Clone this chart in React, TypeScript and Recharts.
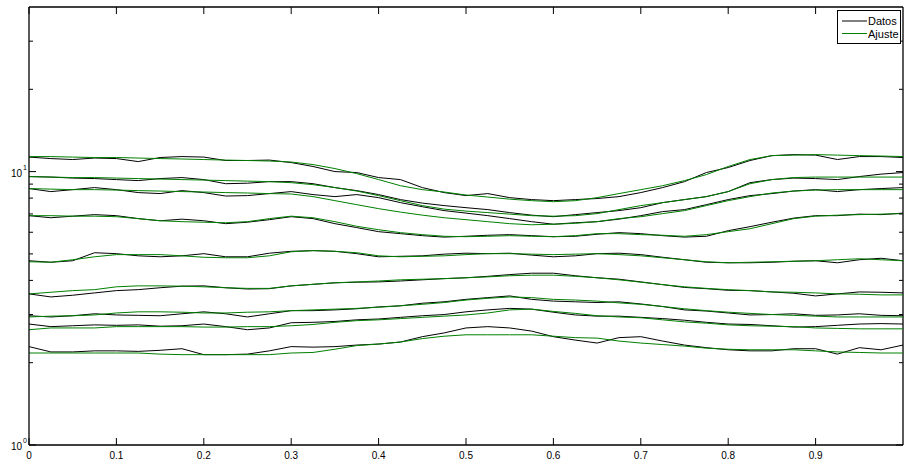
import React from 'react';
import { LineChart, Line, XAxis, YAxis, Legend, ReferenceLine } from 'recharts';

const xs = [0, 0.025, 0.05, 0.075, 0.1, 0.125, 0.15, 0.175, 0.2, 0.225, 0.25, 0.275, 0.3, 0.325, 0.35, 0.375, 0.4, 0.425, 0.45, 0.475, 0.5, 0.525, 0.55, 0.575, 0.6, 0.625, 0.65, 0.675, 0.7, 0.725, 0.75, 0.775, 0.8, 0.825, 0.85, 0.875, 0.9, 0.925, 0.95, 0.975, 1];

const datos1 = [11.30, 11.16, 11.07, 11.21, 11.16, 10.88, 11.26, 11.35, 11.30, 10.98, 10.98, 11.02, 10.79, 10.44, 10.0, 9.92, 9.51, 9.35, 8.74, 8.38, 8.17, 8.31, 8.03, 7.90, 7.83, 7.90, 7.97, 8.10, 8.38, 8.74, 9.19, 9.92, 10.35, 10.98, 11.44, 11.54, 11.49, 11.07, 11.35, 11.35, 11.26];
const datos2 = [9.59, 9.55, 9.47, 9.43, 9.35, 9.27, 9.43, 9.51, 9.35, 9.03, 9.07, 9.19, 9.19, 9.03, 8.74, 8.52, 8.24, 7.90, 7.67, 7.51, 7.38, 7.26, 7.08, 6.93, 6.84, 6.96, 7.08, 7.20, 7.38, 7.70, 7.90, 8.10, 8.45, 9.11, 9.35, 9.47, 9.43, 9.35, 9.59, 9.79, 9.92];
const datos3 = [8.67, 8.45, 8.59, 8.74, 8.59, 8.38, 8.31, 8.52, 8.38, 8.14, 8.17, 8.31, 8.45, 8.24, 8.10, 8.24, 8.03, 7.70, 7.44, 7.20, 7.05, 6.90, 6.73, 6.56, 6.42, 6.50, 6.56, 6.70, 6.90, 7.14, 7.26, 7.57, 7.90, 8.17, 8.31, 8.49, 8.59, 8.45, 8.59, 8.67, 8.74];
const datos4 = [6.90, 6.78, 6.87, 6.96, 6.90, 6.73, 6.61, 6.70, 6.61, 6.45, 6.53, 6.67, 6.84, 6.73, 6.45, 6.24, 6.03, 5.93, 5.83, 5.76, 5.80, 5.85, 5.88, 5.83, 5.78, 5.80, 5.90, 5.98, 5.93, 5.83, 5.76, 5.80, 6.08, 6.29, 6.53, 6.76, 6.90, 6.90, 6.99, 6.96, 7.05];
const datos5 = [4.72, 4.66, 4.72, 5.05, 5.01, 4.92, 4.88, 4.92, 5.01, 4.88, 4.88, 5.03, 5.11, 5.14, 5.11, 5.01, 4.88, 4.90, 4.92, 4.99, 5.03, 5.01, 5.03, 4.95, 4.88, 4.92, 5.01, 5.03, 4.97, 4.86, 4.76, 4.66, 4.64, 4.64, 4.66, 4.70, 4.72, 4.64, 4.76, 4.82, 4.72];
const datos6 = [3.57, 3.48, 3.53, 3.60, 3.67, 3.70, 3.76, 3.81, 3.82, 3.76, 3.72, 3.73, 3.82, 3.87, 3.92, 3.94, 3.95, 3.98, 4.02, 4.06, 4.09, 4.14, 4.20, 4.25, 4.25, 4.16, 4.09, 4.04, 3.95, 3.86, 3.77, 3.73, 3.68, 3.67, 3.63, 3.59, 3.51, 3.57, 3.63, 3.62, 3.60];
const datos7 = [2.97, 2.94, 2.97, 3.02, 2.99, 2.98, 2.97, 3.02, 3.07, 3.02, 2.94, 3.02, 3.10, 3.10, 3.12, 3.15, 3.20, 3.23, 3.30, 3.34, 3.41, 3.46, 3.51, 3.41, 3.36, 3.34, 3.32, 3.34, 3.28, 3.21, 3.12, 3.09, 3.04, 2.99, 3.00, 3.02, 2.98, 2.99, 3.02, 2.98, 2.97];
const datos8 = [2.77, 2.71, 2.73, 2.75, 2.74, 2.75, 2.72, 2.73, 2.77, 2.71, 2.64, 2.68, 2.80, 2.81, 2.83, 2.87, 2.89, 2.93, 2.97, 3.00, 3.07, 3.12, 3.16, 3.14, 3.06, 2.99, 2.96, 2.96, 2.93, 2.90, 2.86, 2.81, 2.77, 2.76, 2.73, 2.70, 2.71, 2.74, 2.77, 2.78, 2.77];
const datos9 = [2.29, 2.19, 2.19, 2.21, 2.21, 2.20, 2.22, 2.25, 2.14, 2.14, 2.15, 2.21, 2.29, 2.28, 2.29, 2.32, 2.34, 2.38, 2.49, 2.57, 2.68, 2.71, 2.68, 2.61, 2.49, 2.42, 2.36, 2.47, 2.49, 2.40, 2.32, 2.27, 2.23, 2.21, 2.21, 2.25, 2.25, 2.15, 2.27, 2.23, 2.32];

const ajuste1 = [11.35, 11.35, 11.30, 11.26, 11.26, 11.21, 11.16, 11.12, 11.07, 11.02, 10.98, 10.93, 10.84, 10.61, 10.26, 9.83, 9.35, 8.88, 8.59, 8.42, 8.21, 8.07, 7.93, 7.83, 7.76, 7.83, 8.03, 8.31, 8.59, 8.88, 9.27, 9.75, 10.44, 11.07, 11.44, 11.49, 11.54, 11.49, 11.44, 11.40, 11.35];
const ajuste2 = [9.59, 9.55, 9.51, 9.51, 9.47, 9.43, 9.39, 9.35, 9.31, 9.27, 9.23, 9.19, 9.11, 8.96, 8.74, 8.49, 8.17, 7.83, 7.51, 7.29, 7.17, 7.08, 6.99, 6.90, 6.87, 6.90, 7.02, 7.26, 7.51, 7.70, 7.90, 8.10, 8.45, 9.03, 9.35, 9.51, 9.55, 9.55, 9.55, 9.55, 9.55];
const ajuste3 = [8.67, 8.63, 8.59, 8.59, 8.56, 8.52, 8.49, 8.45, 8.42, 8.38, 8.35, 8.31, 8.28, 8.10, 7.83, 7.57, 7.32, 7.11, 6.93, 6.78, 6.67, 6.56, 6.45, 6.39, 6.42, 6.47, 6.56, 6.73, 6.84, 7.02, 7.20, 7.51, 7.83, 8.10, 8.35, 8.49, 8.56, 8.59, 8.59, 8.59, 8.59];
const ajuste4 = [6.90, 6.90, 6.87, 6.87, 6.84, 6.73, 6.61, 6.56, 6.53, 6.50, 6.56, 6.73, 6.87, 6.78, 6.56, 6.31, 6.13, 5.98, 5.88, 5.80, 5.78, 5.80, 5.83, 5.80, 5.78, 5.83, 5.93, 5.93, 5.88, 5.85, 5.80, 5.88, 6.03, 6.18, 6.45, 6.73, 6.87, 6.93, 6.96, 6.99, 7.02];
const ajuste5 = [4.68, 4.66, 4.76, 4.88, 4.97, 4.97, 4.97, 4.92, 4.86, 4.84, 4.84, 4.92, 5.09, 5.14, 5.11, 5.05, 4.92, 4.88, 4.90, 4.92, 4.97, 5.01, 5.01, 4.99, 4.97, 4.99, 5.01, 4.97, 4.92, 4.84, 4.76, 4.68, 4.64, 4.66, 4.68, 4.70, 4.72, 4.76, 4.80, 4.76, 4.72];
const ajuste6 = [3.57, 3.62, 3.67, 3.70, 3.79, 3.82, 3.82, 3.81, 3.79, 3.76, 3.74, 3.74, 3.82, 3.87, 3.92, 3.95, 3.98, 4.02, 4.04, 4.06, 4.09, 4.12, 4.16, 4.18, 4.18, 4.14, 4.09, 4.02, 3.94, 3.86, 3.79, 3.74, 3.70, 3.67, 3.63, 3.62, 3.60, 3.57, 3.56, 3.54, 3.54];
const ajuste7 = [2.94, 2.96, 2.97, 2.99, 3.04, 3.07, 3.07, 3.06, 3.04, 3.04, 3.06, 3.07, 3.10, 3.12, 3.14, 3.16, 3.19, 3.23, 3.27, 3.32, 3.39, 3.44, 3.48, 3.46, 3.41, 3.39, 3.36, 3.31, 3.27, 3.21, 3.15, 3.10, 3.06, 3.03, 3.00, 2.98, 2.96, 2.94, 2.94, 2.94, 2.94];
const ajuste8 = [2.64, 2.68, 2.68, 2.68, 2.71, 2.71, 2.71, 2.71, 2.70, 2.70, 2.71, 2.71, 2.73, 2.76, 2.81, 2.85, 2.87, 2.90, 2.93, 2.96, 2.99, 3.04, 3.12, 3.14, 3.08, 3.03, 2.97, 2.94, 2.92, 2.87, 2.82, 2.79, 2.75, 2.73, 2.72, 2.71, 2.68, 2.67, 2.66, 2.66, 2.66];
const ajuste9 = [2.17, 2.17, 2.17, 2.17, 2.17, 2.17, 2.15, 2.14, 2.14, 2.14, 2.14, 2.14, 2.17, 2.18, 2.24, 2.31, 2.34, 2.38, 2.45, 2.50, 2.53, 2.53, 2.53, 2.53, 2.50, 2.47, 2.46, 2.40, 2.36, 2.33, 2.30, 2.26, 2.24, 2.23, 2.23, 2.23, 2.21, 2.19, 2.18, 2.17, 2.17];

const datos = [datos1, datos2, datos3, datos4, datos5, datos6, datos7, datos8, datos9];
const ajuste = [ajuste1, ajuste2, ajuste3, ajuste4, ajuste5, ajuste6, ajuste7, ajuste8, ajuste9];

const xTicks = [0, 0.1, 0.2, 0.3, 0.4, 0.5, 0.6, 0.7, 0.8, 0.9];
const yTicks = [1, 2, 3, 4, 5, 6, 7, 8, 9, 10, 20, 30];
const yMajor = [1, 10];
const xDomain = [0, 1];
const yDomain = [1, 40];
const seriesNames = ['Datos', 'Ajuste'];

const rows = xs.map((x, i) => {
  const r: Record<string, number> = { x };
  datos.forEach((s, k) => { r['d' + (k + 1)] = s[i]; });
  ajuste.forEach((s, k) => { r['f' + (k + 1)] = s[i]; });
  return r;
});

// layout constants
const CHART_W = 904;
const CHART_H = 463;
const MARGIN = { top: 7, right: 1, bottom: 0, left: 0 };
const PLOT_TOP = MARGIN.top;
const PLOT_RIGHT = CHART_W - MARGIN.right;

const FONT = '"Liberation Sans", Arial, sans-serif';
const MAJOR = 7;
const MINOR = 4;

function BottomTick(props: any) {
  const { x, y, payload } = props;
  const v = Math.round(payload.value * 10) / 10;
  return (
    <g>
      <line x1={x} x2={x} y1={y} y2={y - MAJOR} stroke="#000" strokeWidth={1} />
      <line x1={x} x2={x} y1={PLOT_TOP} y2={PLOT_TOP + MAJOR} stroke="#000" strokeWidth={1} />
      <text x={x} y={y + 14} textAnchor="middle" fontSize={10} fontFamily={FONT} fill="#000">{String(v)}</text>
    </g>
  );
}

function LeftTick(props: any) {
  const { x, y, payload } = props;
  const major = yMajor.includes(payload.value);
  const len = major ? MAJOR : MINOR;
  const exp = Math.round(Math.log10(payload.value));
  return (
    <g>
      <line x1={x} x2={x + len} y1={y} y2={y} stroke="#000" strokeWidth={1} />
      <line x1={PLOT_RIGHT} x2={PLOT_RIGHT - len} y1={y} y2={y} stroke="#000" strokeWidth={1} />
      {major && (
        <g fontFamily={FONT} fill="#000">
          <text x={x - 7} y={y + 5} textAnchor="end" fontSize={10}>10</text>
          <text x={x - 6} y={y - 2} fontSize={7}>{String(exp)}</text>
        </g>
      )}
    </g>
  );
}

function LegendBox(props: any) {
  const items = (props.payload || [])
    .filter((p: any) => p.type !== 'none')
    .slice()
    .sort((a: any, b: any) => seriesNames.indexOf(a.value) - seriesNames.indexOf(b.value));
  return (
    <svg width={64} height={34} style={{ display: 'block' }}>
      <rect x={0.5} y={0.5} width={63} height={33} fill="#fff" stroke="#000" strokeWidth={1} />
      {items.map((it: any, i: number) => (
        <g key={i}>
          <line x1={5} x2={30} y1={11 + 12.5 * i} y2={11 + 12.5 * i} stroke={it.color} strokeWidth={1} />
          <text x={31} y={15 + 12.5 * i} fontSize={11} fontFamily={FONT} fill="#000">{it.value}</text>
        </g>
      ))}
    </svg>
  );
}

export default function App() {
  return (
    <div style={{ position: 'absolute', left: 0, top: 0, background: '#fff' }}>
      <LineChart width={CHART_W} height={CHART_H} data={rows} margin={MARGIN}>
        <XAxis xAxisId="b" dataKey="x" type="number" domain={xDomain} ticks={xTicks} interval={0}
          height={18} tickLine={false} tickSize={0} tickMargin={0} allowDataOverflow
          axisLine={{ stroke: '#000', strokeWidth: 1.3 }} tick={<BottomTick />} />
        <YAxis yAxisId="l" scale="log" type="number" domain={yDomain} ticks={yTicks} interval={0}
          width={29} tickLine={false} tickSize={0} tickMargin={0} allowDataOverflow
          axisLine={{ stroke: '#000', strokeWidth: 1.3 }} tick={<LeftTick />} />
        <ReferenceLine xAxisId="b" yAxisId="l" y={yDomain[1]} stroke="#000" strokeWidth={1.3} ifOverflow="visible" />
        <ReferenceLine xAxisId="b" yAxisId="l" x={xDomain[1]} stroke="#000" strokeWidth={1.3} ifOverflow="visible" />
        {datos.map((_, k) => (
          <Line key={'d' + k} xAxisId="b" yAxisId="l" dataKey={'d' + (k + 1)} type="linear"
            stroke="#000000" strokeWidth={1} dot={false} isAnimationActive={false}
            name={seriesNames[0]} legendType={k === 0 ? 'line' : 'none'} />
        ))}
        {ajuste.map((_, k) => (
          <Line key={'f' + k} xAxisId="b" yAxisId="l" dataKey={'f' + (k + 1)} type="linear"
            stroke="#008000" strokeWidth={1} dot={false} isAnimationActive={false}
            name={seriesNames[1]} legendType={k === 0 ? 'line' : 'none'} />
        ))}
        <Legend layout="vertical" align="center" verticalAlign="middle"
          wrapperStyle={{ position: 'absolute', left: 837, top: 10, width: 64, height: 34 }}
          content={<LegendBox />} />
      </LineChart>
    </div>
  );
}
